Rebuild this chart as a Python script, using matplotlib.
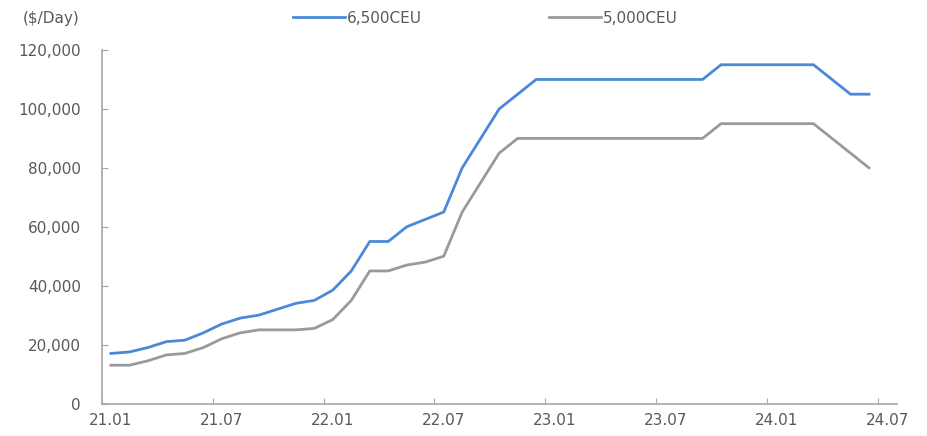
import matplotlib.pyplot as plt
import numpy as np

plt.rcParams['font.family'] = ['DejaVu Sans']

# monthly categories 21.01 - 24.07
months = ['21.01', '21.02', '21.03', '21.04', '21.05', '21.06',
          '21.07', '21.08', '21.09', '21.10', '21.11', '21.12',
          '22.01', '22.02', '22.03', '22.04', '22.05', '22.06',
          '22.07', '22.08', '22.09', '22.10', '22.11', '22.12',
          '23.01', '23.02', '23.03', '23.04', '23.05', '23.06',
          '23.07', '23.08', '23.09', '23.10', '23.11', '23.12',
          '24.01', '24.02', '24.03', '24.04', '24.05', '24.06',
          '24.07']

# charter rates ($/day), 24.07 not yet available
ceu_6500 = [17000, 17500, 19000, 21000, 21500, 24000,
            27000, 29000, 30000, 32000, 34000, 35000,
            38500, 45000, 55000, 55000, 60000, 62500,
            65000, 80000, 90000, 100000, 105000, 110000,
            110000, 110000, 110000, 110000, 110000, 110000,
            110000, 110000, 110000, 115000, 115000, 115000,
            115000, 115000, 115000, 110000, 105000, 105000,
            np.nan]
ceu_5000 = [13000, 13000, 14500, 16500, 17000, 19000,
            22000, 24000, 25000, 25000, 25000, 25500,
            28500, 35000, 45000, 45000, 47000, 48000,
            50000, 65000, 75000, 85000, 90000, 90000,
            90000, 90000, 90000, 90000, 90000, 90000,
            90000, 90000, 90000, 95000, 95000, 95000,
            95000, 95000, 95000, 90000, 85000, 80000,
            np.nan]

x = np.arange(len(months))
txt = '#595959'
axis_c = '#A6A6A6'

fig = plt.figure(figsize=(9.27, 4.36), dpi=100)
ax = fig.add_axes([0.1097, 0.0745, 0.8576, 0.8108])

ax.plot(x, ceu_6500, color='#4A89D9', linewidth=2.0, label='6,500CEU')
ax.plot(x, ceu_5000, color='#9A9A9A', linewidth=2.0, label='5,000CEU')

ax.set_xlim(-0.5, len(months) - 0.5)
ax.set_ylim(0, 120000)

# tick marks between categories, labels on every 6th month
ax.set_xticks(np.arange(-0.5, len(months), 6))
ax.set_xticklabels([])
ax.set_xticks(x[::6], minor=True)
ax.set_xticklabels(months[::6], minor=True)
ax.tick_params(axis='x', which='major', direction='in', length=4, color=axis_c)
ax.tick_params(axis='x', which='minor', length=0, pad=7, labelsize=11, labelcolor=txt)

ax.set_yticks(np.arange(0, 120001, 20000))
ax.yaxis.set_major_formatter(plt.FuncFormatter(lambda v, p: f'{int(v):,}'))
ax.tick_params(axis='y', direction='in', length=4, color=axis_c, pad=15,
               labelsize=11, labelcolor=txt)

for s in ['top', 'right']:
    ax.spines[s].set_visible(False)
for s in ['left', 'bottom']:
    ax.spines[s].set_color(axis_c)
    ax.spines[s].set_linewidth(1.2)

fig.text(0.025, 0.958, '($/Day)', fontsize=11, color=txt, va='center')

fig.legend(loc='center left', bbox_to_anchor=(0.316, 0.958), ncol=2,
           frameon=False, fontsize=11, labelcolor=txt,
           handlelength=3.4, handletextpad=0.15, columnspacing=8.3,
           borderpad=0, borderaxespad=0)

plt.savefig('out.png', dpi=100)
